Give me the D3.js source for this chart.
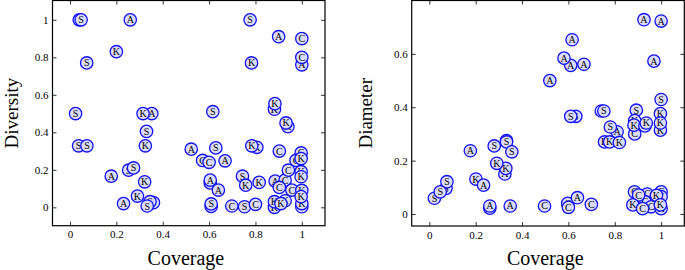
<!DOCTYPE html>
<html>
<head>
<meta charset="utf-8">
<script src="https://cdn.jsdelivr.net/npm/d3@7"></script>
<style>
html,body{margin:0;padding:0;background:#fff;}
svg{display:block;}
svg text{font-family:"Liberation Serif","DejaVu Serif",serif !important;}
</style>
</head>
<body>
<svg id="chart" width="685" height="270"></svg>
<script>
// ---- Data ----
const xTicks = [0, 0.2, 0.4, 0.6, 0.8, 1];
const divTicks = [0, 0.2, 0.4, 0.6, 0.8, 1];
const diaTicks = [0, 0.2, 0.4, 0.6];

// Left panel: Coverage vs Diversity
const divCoverage = [0.040,0.048,0.26,0.20,0.072,0.024,0.353,0.315,0.33,0.616,0.777,0.90,1.0,1.0,1.0,0.783,0.882,0.884,0.94,0.932,
  0.037,0.073,0.325,0.523,0.629,0.806,0.784,0.903,0.572,0.60,0.669,0.253,0.274,0.178,0.322,0.231,0.36,0.345,0.291,0.333,
  0.605,0.605,0.64,0.609,0.609,0.698,0.753,0.80,0.744,0.758,0.816,0.885,0.928,0.903,0.957,0.942,0.882,0.882,0.928,0.91,
  0.997,0.975,0.997,0.997,0.997,1.0,1.0,1.0,0.997];
const divValue = [1.0,1.0,1.0,0.83,0.77,0.50,0.50,0.50,0.405,0.51,1.0,0.91,0.90,0.76,0.80,0.77,0.523,0.553,0.43,0.45,
  0.328,0.328,0.328,0.31,0.317,0.32,0.328,0.30,0.25,0.24,0.248,0.198,0.21,0.166,0.136,0.02,0.025,0.03,0.06,0.007,
  0.13,0.145,0.092,0.005,0.018,0.007,0.003,0.016,0.166,0.118,0.133,0.14,0.145,0.106,0.092,0.198,0.0,0.03,0.035,0.02,
  0.29,0.25,0.26,0.19,0.163,0.003,0.09,0.02,0.057];
const divLabel = ["S","S","A","K","S","S","A","K","S","S","S","A","C","A","C","K","K","K","K","K",
  "S","S","K","A","S","K","K","C","C","C","A","S","S","A","K","A","S","S","K","S",
  "A","A","A","S","S","C","S","C","S","K","K","A","C","C","C","C","K","K","K","K",
  "C","C","K","K","K","K","K","K","K"];

// Right panel: Coverage vs Diameter
const diaCoverage = [0.926,1.0,0.616,0.61,0.581,0.667,0.52,0.969,1.0,0.632,0.61,0.742,0.753,0.893,0.81,0.781,0.756,0.778,0.82,0.886,
  0.886,0.883,0.93,0.936,0.997,0.997,0.997,0.177,0.28,0.333,0.333,0.356,0.326,0.33,0.291,0.201,0.234,0.072,0.076,0.022,
  0.047,0.261,0.261,0.349,0.497,0.597,0.6,0.639,0.699,0.885,0.94,0.93,0.957,0.903,0.878,0.92,1.0,1.0,0.98,1.0,0.997];
const diaValue = [0.728,0.723,0.653,0.557,0.584,0.561,0.50,0.573,0.429,0.366,0.366,0.386,0.386,0.389,0.308,0.326,0.27,0.27,0.268,0.30,
  0.35,0.333,0.33,0.341,0.314,0.376,0.341,0.237,0.255,0.275,0.27,0.233,0.15,0.171,0.19,0.131,0.108,0.096,0.121,0.059,
  0.083,0.022,0.03,0.03,0.03,0.04,0.025,0.061,0.036,0.083,0.075,0.046,0.027,0.071,0.034,0.02,0.083,0.065,0.07,0.02,0.034];
const diaLabel = ["A","A","A","A","A","A","A","A","S","S","S","S","S","S","A","S","K","K","K","C",
  "K","K","K","K","K","K","K","A","S","S","S","S","A","K","K","K","A","S","S","S",
  "S","A","A","A","C","C","C","A","C","C","C","C","C","C","K","C","C","C","K","K","K"];

// ---- Drawing ----
const svg = d3.select("#chart");
const SERIF = '"Liberation Serif","DejaVu Serif",serif';

function panel(cfg) {
  const g = svg.append("g");
  const x = d3.scaleLinear().domain(cfg.xDomain).range([cfg.left, cfg.right]);
  const y = d3.scaleLinear().domain(cfg.yDomain).range([cfg.bottom, cfg.top]);

  const styleAxis = sel => {
    sel.attr("font-family", SERIF);
    sel.select(".domain").remove();
    sel.selectAll(".tick line").attr("stroke", "#000").attr("stroke-width", 0.8);
    sel.selectAll(".tick text").attr("fill", "#000").style("font-size", "11px")
      .style("font-family", SERIF);
  };

  g.append("g").attr("transform", `translate(0,${cfg.bottom})`)
    .call(d3.axisBottom(x).tickValues(xTicks).tickSize(-4).tickPadding(5).tickFormat(d => String(d)))
    .call(styleAxis);
  g.append("g").attr("transform", `translate(0,${cfg.top})`)
    .call(d3.axisTop(x).tickValues(xTicks).tickSize(-4).tickFormat(""))
    .call(styleAxis);
  g.append("g").attr("transform", `translate(${cfg.left},0)`)
    .call(d3.axisLeft(y).tickValues(cfg.yTicks).tickSize(-4).tickPadding(4).tickFormat(d => String(d)))
    .call(styleAxis);
  g.append("g").attr("transform", `translate(${cfg.right},0)`)
    .call(d3.axisRight(y).tickValues(cfg.yTicks).tickSize(-4).tickFormat(""))
    .call(styleAxis);

  g.append("rect")
    .attr("x", cfg.left).attr("y", cfg.top)
    .attr("width", cfg.right - cfg.left).attr("height", cfg.bottom - cfg.top)
    .attr("fill", "none").attr("stroke", "#000").attr("stroke-width", 1.2);

  const pts = cfg.xs.map((v, i) => ({x: v, y: cfg.ys[i], l: cfg.labels[i]}));
  const mk = g.append("g").selectAll("g").data(pts).join("g")
    .attr("transform", d => `translate(${x(d.x)},${y(d.y)})`);
  mk.append("circle").attr("r", 6.2)
    .attr("fill", "#dcdcfa").attr("stroke", "#1010ff").attr("stroke-width", 1.3);
  mk.append("text").text(d => d.l)
    .attr("text-anchor", "middle").attr("dy", "0.35em")
    .style("font-family", SERIF)
    .style("font-size", "10px").attr("fill", "#000");

  g.append("text").text(cfg.xTitle)
    .attr("x", (x(0) + x(1)) / 2).attr("y", 265)
    .attr("text-anchor", "middle").style("font-size", "20px").style("font-family", SERIF).attr("fill", "#000");
  g.append("text").text(cfg.yTitle)
    .attr("transform", `translate(${cfg.yTitleX},${(cfg.top + cfg.bottom) / 2}) rotate(-90)`)
    .attr("text-anchor", "middle").style("font-size", "19px").style("font-family", SERIF).attr("fill", "#000");
}

panel({
  left: 52.5, right: 325, top: 0.5, bottom: 225.7,
  xDomain: [-0.0755, 1.1], yDomain: [-0.098, 1.103],
  yTicks: divTicks, xs: divCoverage, ys: divValue, labels: divLabel,
  xTitle: "Coverage", yTitle: "Diversity", yTitleX: 18
});
panel({
  left: 411.7, right: 684.3, top: 0.5, bottom: 226,
  xDomain: [-0.076, 1.1], yDomain: [-0.045, 0.8],
  yTicks: diaTicks, xs: diaCoverage, ys: diaValue, labels: diaLabel,
  xTitle: "Coverage", yTitle: "Diameter", yTitleX: 372
});
</script>
</body>
</html>
